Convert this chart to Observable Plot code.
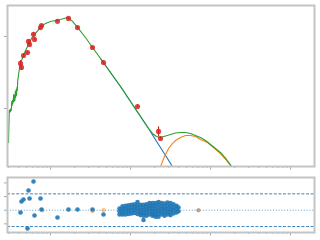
<!DOCTYPE html>
<html><head><meta charset="utf-8">
<script src="https://cdn.jsdelivr.net/npm/d3@7"></script>
<script src="https://cdn.jsdelivr.net/npm/@observablehq/plot@0.6"></script>
<style>
body{margin:0;background:#fff;width:320px;height:240px;overflow:hidden}
svg{display:block}
</style>
</head><body><div id="chart"></div>
<script>
// ---- total model (green)
const greenX = [0.2985,0.302,0.3055,0.309,0.3126,0.3162,0.3199,0.3236,0.3273,0.3311,0.335,0.3388,0.3428,0.3467,0.3508,0.3548,0.3589,0.3631,0.3673,0.3715,0.3758,0.3802,0.3846,0.389,0.3936,0.3981,0.410,0.422,0.434,0.460,0.487,0.531,0.579,0.649,0.750,0.866,1.0,1.155,1.334,1.631,1.884,2.175,2.738,3.35,4.22,5.62,7.50,10.0,13.34,16.8,18.8,21.1,23.7,27.4,31.6,36.5,42.2,48.7,56.2,64.9,75.0,86.6,100,115.5,133,158.5,188,205];
const greenY = [0.337,0.581,0.938,0.880,0.968,0.908,1.0,0.938,1.251,1.101,1.292,1.173,1.334,1.565,1.251,1.515,1.292,1.722,1.422,1.836,1.515,1.957,1.778,2.448,2.610,2.966,3.594,4.084,4.642,5.446,6.39,7.74,9.38,11.01,13.34,15.16,16.16,16.68,17.22,18.36,16.16,13.34,9.68,7.03,4.94,3.162,2.021,1.251,0.774,0.527,0.450,0.409,0.396,0.415,0.435,0.457,0.464,0.464,0.450,0.422,0.396,0.359,0.316,0.278,0.245,0.196,0.152,0.129];
// ---- first component (blue)
const blueX = [4.22,5.62,7.50,10.0,13.34,16.8,21.1,26.6,33.5,37.6];
const blueY = [4.94,3.162,2.021,1.251,0.774,0.527,0.351,0.235,0.156,0.129];
// ---- second component (orange)
const orangeX = [22.4,23.7,26.6,29.9,33.5,36.5,42.2,48.7,56.2,64.9,75.0,91.7,109,133,158.5,188,205];
const orangeY = [0.129,0.156,0.215,0.278,0.327,0.359,0.396,0.422,0.422,0.409,0.371,0.337,0.287,0.237,0.190,0.149,0.129];
// ---- observed points (red)
const obsX = [0.422,0.434,0.460,0.516,0.531,0.547,0.613,0.631,0.750,0.772,1.223,1.679,2.175,3.35,4.60,12.24,22.4,23.7];
const obsY = [4.22,3.71,5.44,5.99,8.53,7.74,10.7,9.09,13.3,14.2,16.2,17.8,13.3,7.03,4.35,1.066,0.480,0.383];
const obsErr = [0.4,0.35,0.3,0.3,0.45,0.4,0.5,0.45,0.6,0.6,0.6,0.6,0.5,0.3,0.2,0.05,0.076,0.02];
// ---- residuals
const resX = [0.422,0.434,0.460,0.516,0.531,0.547,0.613,0.631,0.750,0.772,1.223,1.679,2.175,3.35,4.60];
const resY = [-0.42,1.60,1.96,-3.36,3.61,2.15,5.27,-0.97,2.15,0.13,-1.34,0.13,0.13,0.13,-0.79];
const resOrangeX = [0.79,3.35,4.60,70.8];
const resOrangeY = [0,-0.17,0,0];
const resMixX = [70.8];
const resMixY = [0];
const clusterX = [7.29,7.94,8.66,9.44,10.29,11.22,12.24,13.34,14.54,15.85,17.28,18.84,20.54,22.39,24.41,26.61,29.0,31.62,34.47,37.58,39.81];
const clusterR = [
 [0.3,-0.2,-0.8],[0.7,0.2,-0.3,-0.8],[0.8,0.3,-0.2,-0.8],[0.9,0.4,-0.1,-0.7],[1.0,0.5,0.0,-0.6],
 [1.1,0.6,0.1,-0.5],[1.5,0.9,0.4,-0.1,-0.7],[1.0,0.5,0.0,-0.5,-0.9],[1.0,0.5,0.0,-0.5,-1.0,-1.8],
 [1.1,0.6,0.1,-0.4,-1.0],[1.3,0.8,0.3,-0.2,-0.8],[1.3,0.8,0.3,-0.2,-0.7,-1.0],[1.3,0.8,0.2,-0.3,-0.8,-1.2],
 [1.5,1.0,0.4,-0.1,-0.6,-1.2],[1.3,0.7,0.2,-0.3,-0.8],[1.2,0.6,0.1,-0.4,-1.0],[1.4,0.8,0.2,-0.3,-0.8],
 [1.3,0.7,0.1,-0.4,-0.9],[1.1,0.5,0.0,-0.6],[0.8,0.2,-0.4],[0.5,-0.2]
];
// ---- ticks
const majorX = [1,10,100,1000];
const minorMult = [2,3,4,5,6,7,8,9];
const decades = [0.1,1,10,100,1000];
const majorYTop = [1,10];
const ticksYRes = [-2.5,0,2.5,5];
const limitsRes = [-3,3];

const minorX = decades.flatMap(d => minorMult.map(m => +(m*d).toPrecision(3))).filter(v => v > 0.29 && v < 1995);
const zip = (xs, ys) => xs.map((x,i) => ({x, y: ys[i]}));
const green = zip(greenX, greenY), blue = zip(blueX, blueY), orange = zip(orangeX, orangeY);
const obs = obsX.map((x,i) => ({x, y: obsY[i], lo: obsY[i]-obsErr[i], hi: obsY[i]+obsErr[i]}));
const res = zip(resX, resY), resO = zip(resOrangeX, resOrangeY), resM = zip(resMixX, resMixY);
const cluster = clusterX.flatMap((x,i) => clusterR[i].map(y => ({x, y})));

const frameColor = "#c4c4c4", tickColor = "#a8a8a8";
const xScale = {type: "log", domain: [0.29, 1995]};
const xAxes = () => [
  Plot.axisX(minorX, {anchor: "bottom", tickSize: 2, tickFormat: () => "", label: null, stroke: tickColor}),
  Plot.axisX(majorX, {anchor: "bottom", tickSize: 3.5, tickFormat: () => "", label: null, stroke: tickColor})
];

const sedPlot = Plot.plot({
  width: 320, height: 172, marginLeft: 7, marginRight: 6, marginTop: 5, marginBottom: 6,
  x: xScale,
  y: {type: "log", domain: [0.1565, 26.9]},
  marks: [
    ...xAxes(),
    Plot.axisY(majorYTop, {anchor: "left", tickSize: 3, tickFormat: () => "", label: null, stroke: tickColor}),
    Plot.line(blue, {x: "x", y: "y", stroke: "#1f77b4", strokeWidth: 1.1, clip: true}),
    Plot.line(orange, {x: "x", y: "y", stroke: "#ff7f0e", strokeWidth: 1.1, clip: true}),
    Plot.line(green, {x: "x", y: "y", stroke: "#2ca02c", strokeWidth: 1.1, clip: true}),
    Plot.ruleX(obs, {x: "x", y1: "lo", y2: "hi", stroke: "#d62728", strokeWidth: 1.2}),
    Plot.dot(obs, {x: "x", y: "y", r: 2.6, fill: "#d62728", fillOpacity: 0.85, stroke: null}),
    Plot.frame({stroke: frameColor, strokeWidth: 2})
  ]
});

const resPlot = Plot.plot({
  width: 320, height: 68, marginLeft: 7, marginRight: 6, marginTop: 5, marginBottom: 8,
  x: xScale,
  y: {domain: [-4.09, 6.0]},
  marks: [
    ...xAxes(),
    Plot.axisY(ticksYRes, {anchor: "left", tickSize: 3, tickFormat: () => "", label: null, stroke: tickColor}),
    Plot.ruleY(limitsRes, {stroke: "#3b84bd", strokeWidth: 1, strokeDasharray: "3,1.6"}),
    Plot.ruleY([0], {stroke: "#5b9fd0", strokeWidth: 1, strokeDasharray: "1,1.8"}),
    Plot.dot(resO, {x: "x", y: "y", r: 2.2, fill: "#ff7f0e", fillOpacity: 0.45, stroke: null}),
    Plot.dot(cluster, {x: "x", y: "y", r: 2.3, fill: "#1f77b4", fillOpacity: 0.9, stroke: null}),
    Plot.dot(res, {x: "x", y: "y", r: 2.3, fill: "#1f77b4", fillOpacity: 0.9, stroke: null}),
    Plot.dot(resM, {x: "x", y: "y", r: 2.0, fill: "#1f77b4", fillOpacity: 0.35, stroke: null}),
    Plot.frame({stroke: frameColor, strokeWidth: 2})
  ]
});

document.getElementById("chart").append(sedPlot, resPlot);
</script>
</body></html>
